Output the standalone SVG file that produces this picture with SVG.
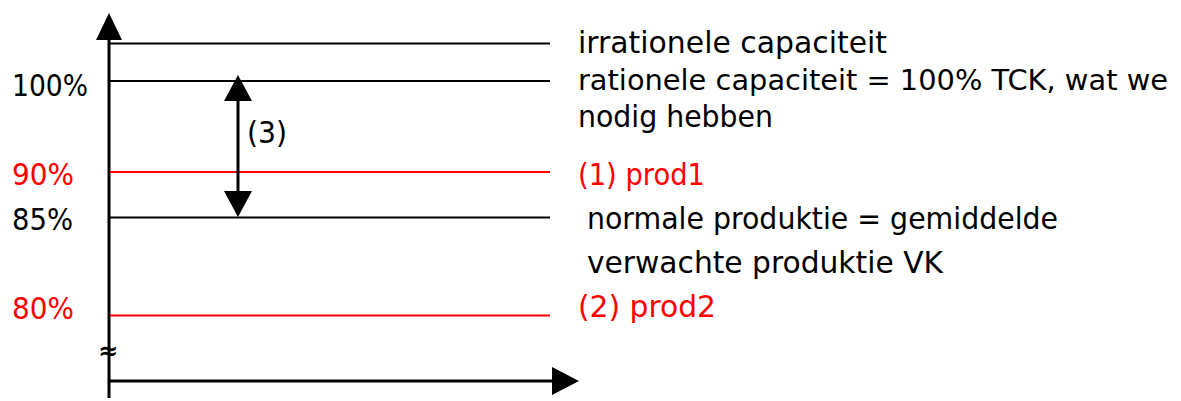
<svg xmlns="http://www.w3.org/2000/svg" width="1181" height="401" viewBox="0 0 1181 401">
<style>
text{font-family:"DejaVu Sans","Liberation Sans",sans-serif;font-size:30px;fill:#000}
.r{fill:#ff0000}
.lk{stroke:#000;stroke-width:2;fill:none}
.lr{stroke:#ff0000;stroke-width:2;fill:none}
.ax{stroke:#000;stroke-width:3;fill:none}
.ah{fill:#000}
</style>
<g id="axes">
<line class="ax" x1="109" y1="398" x2="109" y2="38"/>
<polygon class="ah" points="109,13 96,40 122,40"/>
<line class="ax" x1="108" y1="381" x2="555" y2="381"/>
<polygon class="ah" points="579,381 552,367 552,395"/>
<text x="108" y="359" text-anchor="middle" style="font-size:24px;font-weight:bold">≈</text>
</g>
<g id="levels">
<line class="lk" x1="110" y1="43.5" x2="550" y2="43.5"/>
<line class="lk" x1="110" y1="81" x2="550" y2="81"/>
<line class="lr" x1="110" y1="172" x2="550" y2="172"/>
<line class="lk" x1="110" y1="217.5" x2="550" y2="217.5"/>
<line class="lr" x1="110" y1="315.5" x2="550" y2="315.5"/>
</g>
<g id="yLabels">
<text x="12" y="96" textLength="76" lengthAdjust="spacingAndGlyphs">100%</text>
<text class="r" x="12" y="185" textLength="62" lengthAdjust="spacingAndGlyphs">90%</text>
<text x="12" y="230" textLength="61" lengthAdjust="spacingAndGlyphs">85%</text>
<text class="r" x="12" y="319" textLength="62" lengthAdjust="spacingAndGlyphs">80%</text>
</g>
<g id="connectors">
<line x1="238" y1="98" x2="238" y2="194" stroke="#000" stroke-width="3"/>
<polygon class="ah" points="238,75 224,101 252,101"/>
<polygon class="ah" points="238,217 224,191 252,191"/>
<text x="247" y="143" textLength="40" lengthAdjust="spacingAndGlyphs">(3)</text>
</g>
<g id="rightLabels">
<text x="578" y="53" textLength="309" lengthAdjust="spacingAndGlyphs">irrationele capaciteit</text>
<text x="578" y="90" style="font-size:28px" textLength="590" lengthAdjust="spacingAndGlyphs">rationele capaciteit = 100% TCK, wat we</text>
<text x="578" y="127" textLength="195" lengthAdjust="spacingAndGlyphs">nodig hebben</text>
<text class="r" x="578" y="185" textLength="127" lengthAdjust="spacingAndGlyphs">(1) prod1</text>
<text x="587" y="229" textLength="471" lengthAdjust="spacingAndGlyphs">normale produktie = gemiddelde</text>
<text x="587" y="273" textLength="356" lengthAdjust="spacingAndGlyphs">verwachte produktie VK</text>
<text class="r" x="578" y="317" textLength="138" lengthAdjust="spacingAndGlyphs">(2) prod2</text>
</g>
</svg>
